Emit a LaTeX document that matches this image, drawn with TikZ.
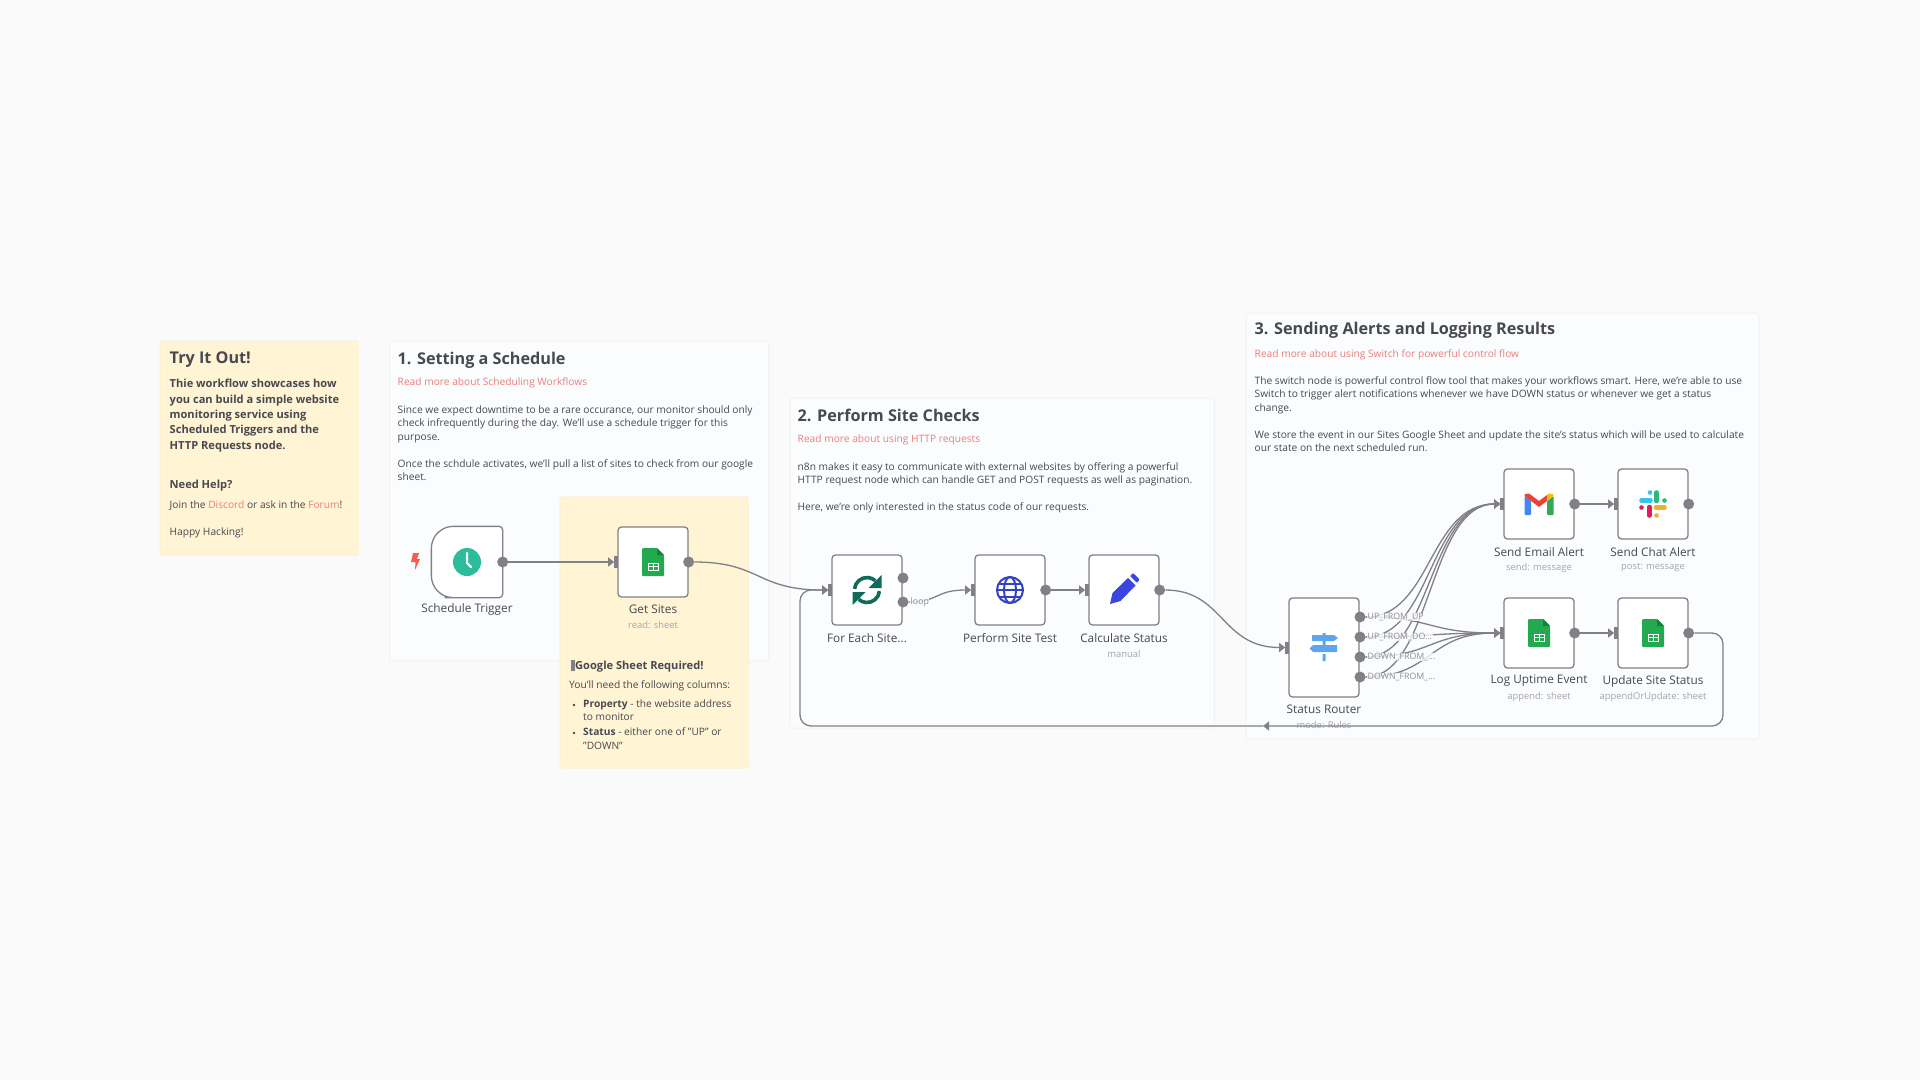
\documentclass[tikz,border=0pt]{standalone}
\usepackage{fontspec}
\setmainfont{Open Sans}
\usetikzlibrary{arrows.meta}
\definecolor{pagebg}{HTML}{FAFAFA}
\definecolor{stickybg}{HTML}{FBFCFD}
\definecolor{stickyline}{HTML}{F1F2F4}
\definecolor{notebg}{HTML}{FFF4D4}
\definecolor{noteline}{HTML}{FDF0CE}
\definecolor{inktext}{HTML}{484850}
\definecolor{linkred}{HTML}{E87F7C}
\definecolor{wiregray}{HTML}{808086}
\definecolor{subgray}{HTML}{A5A5AA}
\definecolor{labelgray}{HTML}{8E8E94}
\definecolor{sheetgreen}{HTML}{23A94F}
\definecolor{clockteal}{HTML}{2CBB9B}
\definecolor{boltred}{HTML}{F0604E}
\definecolor{syncgreen}{HTML}{0F6B57}
\definecolor{globeblue}{HTML}{3241C4}
\definecolor{pencilblue}{HTML}{3B46E0}
\definecolor{signblue}{HTML}{5FA4EE}
\definecolor{gmailblue}{HTML}{4285F4}
\definecolor{gmailgreen}{HTML}{34A853}
\definecolor{gmailred}{HTML}{EA4335}
\definecolor{gmailyellow}{HTML}{FBBC04}
\definecolor{slackblue}{HTML}{36C5F0}
\definecolor{slackgreen}{HTML}{2EB67D}
\definecolor{slackred}{HTML}{E01E5A}
\definecolor{slackyellow}{HTML}{ECB22E}
\tikzset{
  sticky/.style={draw=stickyline,fill=stickybg,line width=1pt,rounded corners=1.5pt},
  yellownote/.style={draw=noteline,fill=notebg,line width=1pt,rounded corners=1.5pt},
  bigtitle/.style={anchor=west,inner sep=0,text=inktext,font=\fontsize{16.2}{18}\selectfont\bfseries},
  linktxt/.style={anchor=west,inner sep=0,text=linkred,font=\fontsize{10.2}{13.5}\selectfont},
  bodytxt/.style={anchor=north west,inner sep=0,align=left,text=inktext,font=\fontsize{10.2}{13.5}\selectfont},
  boldtxt/.style={anchor=north west,inner sep=0,align=left,text=inktext,font=\fontsize{11.1}{15.4}\selectfont\bfseries},
  wfnode/.style={draw=wiregray,fill=white,line width=1.3pt,rounded corners=3.5pt,minimum width=70pt,minimum height=70pt,inner sep=0},
  outdot/.style={circle,fill=wiregray,inner sep=0,minimum size=11pt},
  inport/.style={fill=wiregray,inner sep=0,minimum width=4pt,minimum height=12pt},
  nodename/.style={inner sep=0,text=inktext,font=\fontsize{11.8}{13}\selectfont},
  nodesub/.style={inner sep=0,text=subgray,font=\fontsize{9.4}{11}\selectfont},
  wirelabel/.style={anchor=west,inner sep=0.5pt,fill=stickybg,fill opacity=0.8,text opacity=1,text=labelgray,font=\fontsize{8.8}{10}\selectfont},
  wire/.style={draw=wiregray,line width=1.3pt,-{Triangle[length=6pt,width=9pt]}},
  sheeticon/.pic={
    \fill[sheetgreen,rounded corners=1pt] (-11,-14) -- (4,-14) -- (11,-7) -- (11,14) -- (-11,14) -- cycle;
    \fill[sheetgreen!75!black] (4,-14) -- (11,-7) -- (4,-7) -- cycle;
    \draw[white,line width=1pt] (-5,1) rectangle (5,8) (-5,4.5) -- (5,4.5) (0,1) -- (0,8);
  },
}
\begin{document}
\begin{tikzpicture}[x=1pt,y=-1pt]
\fill[pagebg] (0,0) rectangle (1920,1080);
\useasboundingbox (0,0) rectangle (1920,1080);

% sticky notes
\draw[yellownote] (160,341) rectangle (358,555);
\draw[sticky] (389.5,341) rectangle (768.5,661);
\draw[sticky] (790,398) rectangle (1214,728);
\draw[sticky] (1246,313) rectangle (1759,739);
\draw[yellownote] (560,497) rectangle (748,768);

% texts of the notes
\node[bigtitle] (trytitle) at (169.5,360) {Try It Out!};
\node[boldtxt] (trybody) at (169.5,379) {Thie workflow showcases how\\you can build a simple website\\monitoring service using\\Scheduled Triggers and the\\HTTP Requests node.};
\node[boldtxt,anchor=west] (helptitle) at (169.5,486) {Need Help?};
\node[bodytxt,anchor=west] (helpline) at (169.5,506) {Join the \textcolor{linkred}{Discord} or ask in the \textcolor{linkred}{Forum}!};
\node[bodytxt,anchor=west] (hacking) at (169.5,533) {Happy Hacking!};

\node[bigtitle] (onetitle) at (397.5,360) {1. Setting a Schedule};
\node[linktxt] (onelink) at (397.5,382.5) {Read more about Scheduling Workflows};
\node[bodytxt] (onebody) at (397.5,405.5) {Since we expect downtime to be a rare occurance, our monitor should only\\check infrequently during the day. We'll use a schedule trigger for this\\purpose.\\[13.5pt]Once the schdule activates, we'll pull a list of sites to check from our google\\sheet.};

\node[bigtitle] (twotitle) at (797.5,415.5) {2. Perform Site Checks};
\node[linktxt] (twolink) at (797.5,440) {Read more about using HTTP requests};
\node[bodytxt] (twobody) at (797.5,462) {n8n makes it easy to communicate with external websites by offering a powerful\\HTTP request node which can handle GET and POST requests as well as pagination.\\[13.5pt]Here, we're only interested in the status code of our requests.};

\node[bigtitle] (threetitle) at (1254.5,330.5) {3. Sending Alerts and Logging Results};
\node[linktxt] (threelink) at (1254.5,354.5) {Read more about using Switch for powerful control flow};
\node[bodytxt] (threebody) at (1254.5,376) {The switch node is powerful control flow tool that makes your workflows smart. Here, we're able to use\\Switch to trigger alert notifications whenever we have DOWN status or whenever we get a status\\change.\\[13.5pt]We store the event in our Sites Google Sheet and update the site's status which will be used to calculate\\our state on the next scheduled run.};

\node[boldtxt,anchor=west] (sheettitle) at (571,666) {\textcolor{wiregray}{\rule[-1.5pt]{4pt}{11pt}}Google Sheet Required!};
\node[bodytxt,anchor=west] (sheetline) at (569,686) {You'll need the following columns:};
\node[bodytxt] (sheetone) at (583,699.5) {\textbf{Property} - the website address\\to monitor};
\node[bodytxt] (sheettwo) at (583,727.5) {\textbf{Status} - either one of "UP" or\\"DOWN"};
\fill[inktext] (574,705) circle (1.3) (574,733) circle (1.3);

% workflow nodes
\node[wfnode,draw=none,fill=none] (schedule) at (467,562) {};
\draw[draw=wiregray,fill=white,line width=1.3pt,line join=round] (schedule.north) [rounded corners=22pt] -- (schedule.north west) -- (schedule.south west) -- (schedule.south) [rounded corners=3.5pt] -- (schedule.south east) -- (schedule.north east) -- cycle;
\node[wfnode] (getsites) at (653,562) {};
\node[wfnode] (foreach) at (867,590) {};
\node[wfnode] (sitetest) at (1010,590) {};
\node[wfnode] (calc) at (1124,590) {};
\node[wfnode,minimum height=99pt] (router) at (1324,647.5) {};
\node[wfnode] (email) at (1539,504) {};
\node[wfnode] (chat) at (1653,504) {};
\node[wfnode] (log) at (1539,633) {};
\node[wfnode] (update) at (1653,633) {};

\node[nodename] (schedulename) at (467,609) {Schedule Trigger};
\node[nodename] (getsitesname) at (653,609) {Get Sites};
\node[nodesub] (getsitessub) at (653,625) {read: sheet};
\node[nodename] (foreachname) at (867,638) {For Each Site...};
\node[nodename] (sitetestname) at (1010,638) {Perform Site Test};
\node[nodename] (calcname) at (1124,638) {Calculate Status};
\node[nodesub] (calcsub) at (1124,654) {manual};
\node[nodename] (routername) at (1324,709) {Status Router};
\node[nodesub] (routersub) at (1324,725) {mode: Rules};
\node[nodename] (emailname) at (1539,552) {Send Email Alert};
\node[nodesub] (emailsub) at (1539,568) {send: message};
\node[nodename] (chatname) at (1653,552) {Send Chat Alert};
\node[nodesub] (chatsub) at (1653,568) {post: message};
\node[nodename] (logname) at (1539,681) {Log Uptime Event};
\node[nodesub] (logsub) at (1539,697) {append: sheet};
\node[nodename] (updatename) at (1653,681) {Update Site Status};
\node[nodesub] (updatesub) at (1653,697) {appendOrUpdate: sheet};

% ports
\foreach \nd in {schedule,getsites,sitetest,calc,email,chat,log,update}
  \node[outdot] (\nd out) at (\nd.east) {};
\foreach \nd in {getsites,foreach,sitetest,calc,router,email,chat,log,update}
  \node[inport] (\nd in) at ([xshift=-1pt]\nd.west) {};
\node[outdot] (foreachdone) at (903,578) {};
\node[outdot] (foreachloop) at (903,602) {};
\foreach \i/\yy in {1/617,2/637,3/657,4/677}
  \node[outdot] (routerout\i) at (1360,\yy) {};

% connectors
\draw[wire] (scheduleout) -- (getsitesin.west);
\draw[wire] (getsitesout) .. controls +(72,0) and +(-72,0) .. (foreachin.west);
\draw[wire] (foreachloop) .. controls +(36,0) and +(-36,0) .. (sitetestin.west);
\draw[wire] (sitetestout) -- (calcin.west);
\draw[wire] (calcout) .. controls +(64,0) and +(-64,0) .. (routerin.west);
\draw[wire] (emailout) -- (chatin.west);
\draw[wire] (logout) -- (updatein.west);
\foreach \i in {1,2,3,4} {
  \draw[wire] (routerout\i) .. controls +(72,0) and +(-72,0) .. (emailin.west);
  \draw[wire] (routerout\i) .. controls +(72,0) and +(-72,0) .. (login.west);
}
\coordinate (loopa) at (1723,633);
\coordinate (loopb) at (1723,726);
\coordinate (loopc) at (1263,726);
\coordinate (loopd) at (800,726);
\coordinate (loope) at (800,590);
\draw[wire,rounded corners=11pt] (updateout) -- (loopa) -- (loopb) -- (loopc);
\draw[wire,rounded corners=11pt] (loopc) -- (loopd) -- (loope) -- (foreachin.west);

\node[wirelabel] (looplabel) at (910,602) {loop};
\node[wirelabel] (uplabel) at (1367,617) {UP\_FROM\_UP};
\node[wirelabel] (updolabel) at (1367,637) {UP\_FROM\_DO...};
\node[wirelabel] (downalabel) at (1367,657) {DOWN\_FROM\_...};
\node[wirelabel] (downblabel) at (1367,677) {DOWN\_FROM\_...};

% icons
\fill[boltred] (413,553) -- (419,553) -- (417,559) -- (420,559) -- (415,570) -- (415.5,562) -- (411,562) -- cycle;
\fill[clockteal] (467,562) circle (14);
\draw[white,line width=2.4pt,line cap=round,line join=round] (467,553) -- (467,563) -- (471,567);
\path (653,562) pic {sheeticon};
\path (1539,633) pic {sheeticon};
\path (1653,633) pic {sheeticon};
% refresh
\begin{scope}[shift={(867,590)},y=1pt]
  \draw[syncgreen,line width=3.6pt] (175:12.5) arc (175:48:12.5);
  \draw[syncgreen,line width=3.6pt] (-5:12.5) arc (-5:-132:12.5);
  \fill[syncgreen] (14.5,15) -- (14.5,2) -- (1.5,2) -- cycle (-14.5,-15) -- (-14.5,-2) -- (-1.5,-2) -- cycle;
\end{scope}
% globe
\begin{scope}[shift={(1010,590)},draw=globeblue,line width=2pt]
  \draw (0,0) circle (13);
  \draw (0,0) ellipse (6 and 13);
  \draw (-13,0) -- (13,0) (-11,-6.5) -- (11,-6.5) (-11,6.5) -- (11,6.5);
\end{scope}
% pencil
\begin{scope}[shift={(1124,590)}]
  \fill[pencilblue] (-14,14) -- (-11.5,3) -- (4,-12) -- (11.5,-4.5) -- (-3.5,11) -- cycle;
  \fill[pencilblue,rounded corners=1pt] (6,-14) -- (9,-17) -- (15.5,-10.5) -- (13,-7) -- cycle;
\end{scope}
% signpost
\begin{scope}[shift={(1324,647)}]
  \fill[signblue] (-12,-12) -- (10,-12) -- (14,-9) -- (10,-6) -- (-12,-6) -- cycle;
  \fill[signblue] (-11,-2) -- (13,-2) -- (13,5) -- (-11,5) -- (-14.5,1.5) -- cycle;
  \fill[signblue] (-1.5,7) rectangle (1.5,14) (-1.5,-14) rectangle (1.5,-12) (-1.5,-6) rectangle (1.5,-2);
\end{scope}
% gmail
\begin{scope}[shift={(1539,504)}]
  \fill[gmailblue,rounded corners=1pt] (-14.5,-8) -- (-8,-3) -- (-8,11) -- (-14.5,11) -- cycle;
  \fill[gmailgreen,rounded corners=1pt] (14.5,-8) -- (8,-3) -- (8,11) -- (14.5,11) -- cycle;
  \fill[gmailred] (-14.5,-8) -- (-14,-10) -- (-10,-10.5) -- (0,-3) -- (8,-9) -- (8,-3) -- (0,3) -- (-8,-3) -- cycle;
  \fill[gmailyellow] (8,-9) -- (10,-10.5) -- (14,-10) -- (14.5,-8) -- (8,-3) -- cycle;
\end{scope}
% slack
\begin{scope}[shift={(1653,504)},line width=4.6pt,line cap=round]
  \draw[slackblue] (-11.5,-3.5) -- (-2.5,-3.5);
  \draw[slackblue] (-3,-11.5) -- (-3,-11.5);
  \draw[slackgreen] (3.5,-11.5) -- (3.5,-3);
  \draw[slackgreen] (11.5,-3.5) -- (11.5,-3.5);
  \draw[slackyellow] (3,3.5) -- (11.5,3.5);
  \draw[slackyellow] (3.5,11.5) -- (3.5,11.5);
  \draw[slackred] (-3.5,3) -- (-3.5,11.5);
  \draw[slackred] (-11.5,3.5) -- (-11.5,3.5);
\end{scope}
\end{tikzpicture}
\end{document}
